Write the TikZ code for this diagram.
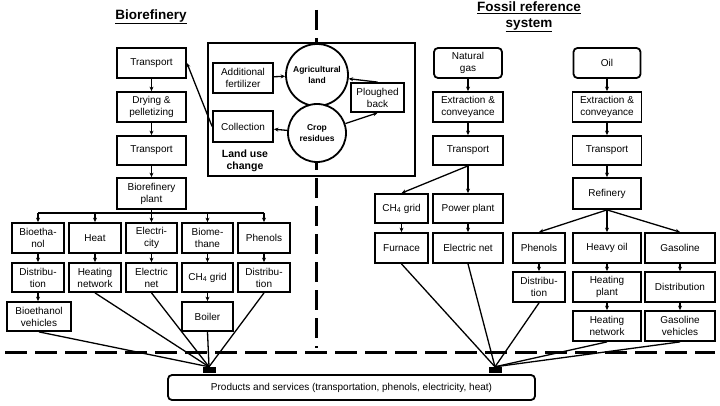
\documentclass[tikz,border=0pt]{standalone}
\usepackage{fontspec}
\setmainfont{Liberation Sans}
\usetikzlibrary{arrows.meta}
\begin{document}
\begin{tikzpicture}[x=1pt,y=-1pt,
  bx/.style={draw, line width=1.8pt, align=center, inner sep=0pt, font=\fontsize{10}{12}\selectfont},
  rbx/.style={bx, rounded corners=4pt},
  circ/.style={draw, circle, line width=1.8pt, fill=white, align=center, inner sep=0pt, font=\bfseries\fontsize{8.5}{11}\selectfont},
  arr/.style={line width=1.3pt, -{Stealth[length=4.5pt,width=4pt]}},
  ln/.style={line width=1.3pt},
  dsh/.style={line width=3pt},
  jn/.style={fill=black, inner sep=0pt, minimum width=13pt, minimum height=6pt}
]
\useasboundingbox (0,0) rectangle (720,406);

% titles
\node[font=\bfseries\fontsize{13.5}{16}\selectfont] (t1) at (151,17) {\underline{Biorefinery}};
\node[font=\bfseries\fontsize{13.5}{16}\selectfont, align=center] (t2) at (529,17) {\underline{Fossil reference}\\\underline{system}};

% land use box
\draw[line width=1.8pt] (208,43) rectangle (415,176);

% dashed separators
\draw[dsh, dash pattern=on 20pt off 8pt] (316,10) -- (316,348);
\draw[dsh, dash pattern=on 22pt off 8pt] (5,352) -- (715,352);

% left column
\node[bx, minimum width=69pt, minimum height=30pt] (tr1) at (151.5,63) {Transport};
\node[bx, minimum width=69pt, minimum height=30pt] (dry) at (151.5,107) {Drying \&\\pelletizing};
\node[bx, minimum width=69pt, minimum height=29pt] (tr2) at (151.5,150.5) {Transport};
\node[bx, minimum width=69pt, minimum height=31pt] (bpl) at (151.5,193.5) {Biorefinery\\plant};
\draw[arr] (tr1) -- (dry);
\draw[arr] (dry) -- (tr2);
\draw[arr] (tr2) -- (bpl);

% row 1
\node[bx, minimum width=52pt, minimum height=30pt] (be) at (38,238) {Bioetha-\\nol};
\node[bx, minimum width=52pt, minimum height=30pt] (heat) at (95,238) {Heat};
\node[bx, minimum width=51pt, minimum height=30pt] (elc) at (151.5,238) {Electri-\\city};
\node[bx, minimum width=51pt, minimum height=30pt] (bme) at (207.5,238) {Biome-\\thane};
\node[bx, minimum width=52pt, minimum height=30pt] (phe) at (264,238) {Phenols};
% row 2
\node[bx, minimum width=52pt, minimum height=29pt] (ds1) at (38,277.5) {Distribu-\\tion};
\node[bx, minimum width=52pt, minimum height=29pt] (hn1) at (95,277.5) {Heating\\network};
\node[bx, minimum width=51pt, minimum height=29pt] (en1) at (151.5,277.5) {Electric\\net};
\node[bx, minimum width=51pt, minimum height=29pt] (cg1) at (207.5,277.5) {CH\textsubscript{4} grid};
\node[bx, minimum width=52pt, minimum height=29pt] (ds2) at (264,277.5) {Distribu-\\tion};
% row 3
\node[bx, minimum width=64pt, minimum height=29pt] (bev) at (39,316.5) {Bioethanol\\vehicles};
\node[bx, minimum width=51pt, minimum height=29pt] (boi) at (207.5,316.5) {Boiler};

% branching
\coordinate (bsplit) at (151.5,213);
\coordinate (bl) at (38,213);
\coordinate (br) at (264,213);
\draw[ln] (bpl.south) -- (bsplit);
\draw[ln] (bl) -- (br);
\draw[arr] (bl) -- (be.north);
\draw[arr] (95,213) -- (heat.north);
\draw[arr] (bsplit) -- (elc.north);
\draw[arr] (207.5,213) -- (bme.north);
\draw[arr] (br) -- (phe.north);
\draw[arr] (be) -- (ds1);
\draw[arr] (heat) -- (hn1);
\draw[arr] (elc) -- (en1);
\draw[arr] (bme) -- (cg1);
\draw[arr] (phe) -- (ds2);
\draw[arr] (ds1.south) -- (ds1.south |- bev.north);
\draw[arr] (cg1) -- (boi);

% land use change content
\node[bx, minimum width=60pt, minimum height=30pt] (adf) at (243,78) {Additional\\fertilizer};
\node[bx, minimum width=60pt, minimum height=31pt] (col) at (243,126.5) {Collection};
\node[circ, minimum size=62pt] (agl) at (317,75) {Agricultural\\land};
\node[circ, minimum size=58pt] (crp) at (317,133) {Crop\\residues};
\node[bx, minimum width=53pt, minimum height=29pt] (plb) at (377.5,97.5) {Ploughed\\back};
\node[font=\bfseries\fontsize{10.5}{12.5}\selectfont, align=center] (luc) at (245,161) {Land use\\change};
\draw[arr] (adf) -- (agl);
\draw[arr] (plb.north) -- (agl);
\draw[arr] (crp) -- (plb.south);
\draw[arr] (crp) -- (col);
\draw[arr] (col.west) -- (tr1.east);

% fossil: natural gas
\node[rbx, minimum width=68pt, minimum height=30pt] (ng) at (468,63) {Natural\\gas};
\node[bx, minimum width=70pt, minimum height=30pt] (ec1) at (468,107) {Extraction \&\\conveyance};
\node[bx, minimum width=70pt, minimum height=29pt] (tr3) at (468,150.5) {Transport};
\node[bx, minimum width=53pt, minimum height=29pt] (cg2) at (401.5,208.5) {CH\textsubscript{4} grid};
\node[bx, minimum width=70pt, minimum height=29pt] (pp) at (468,208.5) {Power plant};
\node[bx, minimum width=53pt, minimum height=30pt] (fur) at (401.5,248) {Furnace};
\node[bx, minimum width=70pt, minimum height=30pt] (en2) at (468,248) {Electric net};
\draw[arr] (ng) -- (ec1);
\draw[arr] (ec1) -- (tr3);
\draw[arr] (tr3) -- (pp);
\draw[arr] (tr3.south) -- (cg2.north);
\draw[arr] (cg2) -- (fur);
\draw[arr] (pp) -- (en2);

% fossil: oil
\node[rbx, minimum width=67pt, minimum height=30pt] (oil) at (607,63) {Oil};
\node[bx, minimum width=69pt, minimum height=30pt] (ec2) at (607,107) {Extraction \&\\conveyance};
\node[bx, minimum width=69pt, minimum height=29pt] (tr4) at (607,150.5) {Transport};
\node[bx, minimum width=68pt, minimum height=31pt] (ref) at (607,193.5) {Refinery};
\node[bx, minimum width=52pt, minimum height=30pt] (ph2) at (539,248) {Phenols};
\node[bx, minimum width=68pt, minimum height=30pt] (hoi) at (607,248) {Heavy oil};
\node[bx, minimum width=70pt, minimum height=30pt] (gas) at (680,248) {Gasoline};
\node[bx, minimum width=52pt, minimum height=30pt] (ds3) at (539,287) {Distribu-\\tion};
\node[bx, minimum width=68pt, minimum height=30pt] (hpl) at (607,287) {Heating\\plant};
\node[bx, minimum width=70pt, minimum height=30pt] (ds4) at (680,287) {Distribution};
\node[bx, minimum width=68pt, minimum height=30pt] (hn2) at (607,326) {Heating\\network};
\node[bx, minimum width=70pt, minimum height=30pt] (gve) at (680,326) {Gasoline\\vehicles};
\draw[arr] (oil) -- (ec2);
\draw[arr] (ec2) -- (tr4);
\draw[arr] (tr4) -- (ref);
\draw[arr] (ref.south) -- (ph2.north);
\draw[arr] (ref.south) -- (hoi.north);
\draw[arr] (ref.south) -- (gas.north);
\draw[arr] (ph2) -- (ds3);
\draw[arr] (hoi) -- (hpl);
\draw[arr] (hpl) -- (hn2);
\draw[arr] (gas) -- (ds4);
\draw[arr] (ds4) -- (gve);

% products
\node[rbx, minimum width=367pt, minimum height=25pt] (prd) at (351.5,387.5) {Products and services (transportation, phenols, electricity, heat)};
\node[jn] (jl) at (209,370) {};
\node[jn] (jr) at (495,370) {};

\draw[ln] (bev.south) -- (jl.north);
\draw[ln] (hn1.south) -- (jl.north);
\draw[ln] (en1.south) -- (jl.north);
\draw[ln] (boi.south) -- (jl.north);
\draw[ln] (ds2.south) -- (jl.north);

\draw[ln] (fur.south) -- (jr.north);
\draw[ln] (en2.south) -- (jr.north);
\draw[ln] (ds3.south) -- (jr.north);
\draw[ln] (hn2.south) -- (jr.north);
\draw[ln] (gve.south) -- (jr.north);
\end{tikzpicture}
\end{document}
